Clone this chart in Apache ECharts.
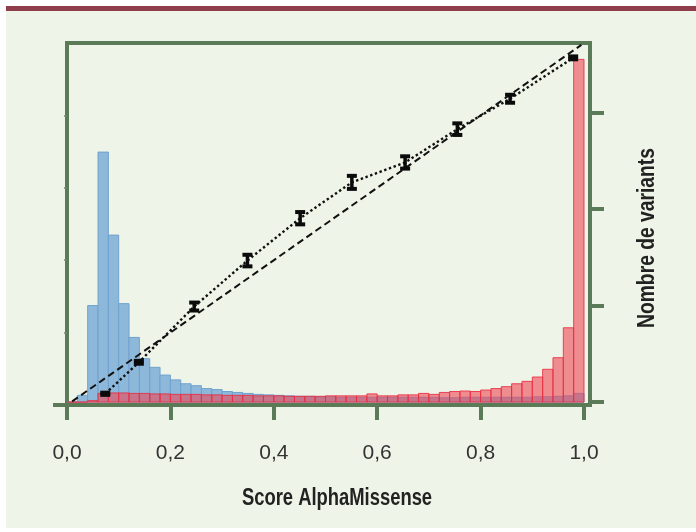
<!DOCTYPE html>
<html>
<head>
<meta charset="utf-8">
<script src="https://cdn.jsdelivr.net/npm/echarts@6/dist/echarts.min.js"></script>
<style>
html,body{margin:0;padding:0;background:#ffffff;}
#chart{width:696px;height:532px;}
</style>
</head>
<body>
<div id="chart"></div>
<script>
// ---- data ----
var binWidth = 0.02;
// benign variants histogram (right axis, arbitrary units), bins [0,0.02) ... [0.98,1.0)
var benignCounts = [0, 0.07, 1.0, 2.59, 1.73, 1.02, 0.67, 0.45, 0.36, 0.28,
  0.23, 0.19, 0.17, 0.14, 0.13, 0.11, 0.10, 0.09, 0.08, 0.075,
  0.07, 0.065, 0.06, 0.06, 0.055, 0.055, 0.05, 0.05, 0.05, 0.05,
  0.05, 0.05, 0.05, 0.05, 0.05, 0.05, 0.045, 0.045, 0.05, 0.05,
  0.05, 0.05, 0.05, 0.05, 0.05, 0.055, 0.055, 0.06, 0.065, 0.09];
// pathogenic variants histogram
var pathogenicCounts = [0, 0, 0.015, 0.09, 0.095, 0.095, 0.09, 0.09, 0.085, 0.085,
  0.08, 0.08, 0.08, 0.075, 0.075, 0.07, 0.07, 0.07, 0.065, 0.065,
  0.065, 0.06, 0.06, 0.06, 0.06, 0.065, 0.065, 0.065, 0.065, 0.085,
  0.065, 0.065, 0.075, 0.075, 0.09, 0.08, 0.10, 0.11, 0.115, 0.11,
  0.125, 0.14, 0.16, 0.19, 0.215, 0.26, 0.34, 0.46, 0.77, 3.55];
// calibration points (left axis)
var calX = [0.074, 0.139, 0.246, 0.349, 0.451, 0.551, 0.654, 0.755, 0.857, 0.979];
var calY = [0.031, 0.118, 0.272, 0.399, 0.516, 0.615, 0.670, 0.762, 0.846, 0.959];
var calErr = [0.003, 0.004, 0.011, 0.016, 0.017, 0.018, 0.017, 0.016, 0.011, 0.004];
// identity reference line
var diagX = [0.01, 0.995];
// axis ticks and titles
var xTicks = [0, 0.2, 0.4, 0.6, 0.8, 1.0];
var leftMinorTicks = [0.2, 0.4, 0.6, 0.8];
var rightTicks = [0, 1, 2, 3];
var xTitle = 'Score AlphaMissense';
var yRightTitle = 'Nombre de variants';

// ---- build ----
function histData(counts){
  return counts.map(function(c, i){ return [i*binWidth, (i+1)*binWidth, c]; });
}
function histRender(fill, stroke){
  return function(params, api){
    var p0 = api.coord([api.value(0), 0]);
    var p1 = api.coord([api.value(1), api.value(2)]);
    return {type:'rect', shape:{x:p0[0], y:p1[1], width:p1[0]-p0[0], height:p0[1]-p1[1]},
      style:{fill:fill, stroke:stroke, lineWidth:1}};
  };
}
var calData = calX.map(function(x, i){ return [x, calY[i], calErr[i]]; });
var GREEN = '#5b7a57';
var FONT = "'Liberation Sans',Arial,sans-serif";

var chart = echarts.init(document.getElementById('chart'), null, {renderer:'canvas'});
chart.setOption({
  animation:false,
  backgroundColor:'#ffffff',
  graphic:[
    {type:'rect', z:-100, silent:true, shape:{x:6,y:6,width:690,height:522}, style:{fill:'#eff4e8'}},
    {type:'rect', z:-99, silent:true, shape:{x:6,y:6,width:690,height:5}, style:{fill:'#8f3d4b'}},
    {type:'text', silent:true, x:337, y:499, scaleX:0.8,
      style:{text:xTitle, font:"bold 23px 'Liberation Sans', Arial, sans-serif", fill:'#222222', align:'center', verticalAlign:'middle'}},
    {type:'text', silent:true, x:648, y:238, rotation:Math.PI/2, scaleX:0.82,
      style:{text:yRightTitle, font:"bold 23.5px 'Liberation Sans', Arial, sans-serif", fill:'#222222', align:'center', verticalAlign:'middle'}}
  ],
  grid:{left:67, top:43, width:523, height:362, show:true, borderColor:GREEN, borderWidth:4, backgroundColor:'transparent'},
  xAxis:{
    type:'value', min:0, max:1.0116,
    axisLine:{show:false}, splitLine:{show:false},
    axisTick:{show:true, customValues:xTicks, length:15, lineStyle:{color:GREEN, width:4}},
    axisLabel:{customValues:xTicks, margin:38, fontFamily:FONT, fontSize:21, color:'#333333',
      formatter:function(v){ return v.toFixed(1).replace('.', ','); }}
  },
  yAxis:[
    {type:'value', min:0, max:1, position:'left',
      axisLine:{show:false}, splitLine:{show:false}, axisLabel:{show:false},
      axisTick:{show:true, customValues:[0], length:14, lineStyle:{color:GREEN, width:4}}},
    {type:'value', min:-0.03, max:3.72, position:'right',
      axisLine:{show:false}, splitLine:{show:false}, axisLabel:{show:false},
      axisTick:{show:true, customValues:rightTicks, length:14, lineStyle:{color:GREEN, width:4}}},
    {type:'value', min:0, max:1, position:'left',
      axisLine:{show:false}, splitLine:{show:false}, axisLabel:{show:false},
      axisTick:{show:true, customValues:leftMinorTicks, length:3, lineStyle:{color:'#6f8a6a', width:1.5}}}
  ],
  series:[
    {type:'custom', name:'benign', yAxisIndex:1, z:2, renderItem:histRender('#8db8da', '#6fa2cf'),
      data:histData(benignCounts), encode:{x:[0,1], y:2}},
    {type:'custom', name:'pathogenic', yAxisIndex:1, z:3, renderItem:histRender('rgba(238,70,85,0.6)', 'rgba(232,45,65,0.85)'),
      data:histData(pathogenicCounts), encode:{x:[0,1], y:2}},
    {type:'line', name:'identity', yAxisIndex:0, z:4, symbol:'none',
      data:diagX.map(function(v){ return [v, v]; }),
      lineStyle:{color:'#111111', width:2, type:[7,4]}},
    {type:'line', name:'calibration', yAxisIndex:0, z:5, symbol:'none',
      data:calX.map(function(x, i){ return [x, calY[i]]; }),
      lineStyle:{color:'#111111', width:2.4, type:[2.4,2.6]}},
    {type:'custom', name:'errorbars', yAxisIndex:0, z:6,
      renderItem:function(params, api){
        var x = api.value(0), y = api.value(1), e = api.value(2);
        var hi = api.coord([x, y+e]);
        var lo = api.coord([x, y-e]);
        var cw = 10, ch = 4, sw = 3.5;
        var st = {fill:'#0a0a0a'};
        return {type:'group', children:[
          {type:'rect', shape:{x:hi[0]-sw/2, y:hi[1], width:sw, height:lo[1]-hi[1]}, style:st},
          {type:'rect', shape:{x:hi[0]-cw/2, y:hi[1]-ch/2, width:cw, height:ch}, style:st},
          {type:'rect', shape:{x:lo[0]-cw/2, y:lo[1]-ch/2, width:cw, height:ch}, style:st}
        ]};
      },
      data:calData, encode:{x:0, y:1}}
  ]
});
</script>
</body>
</html>
